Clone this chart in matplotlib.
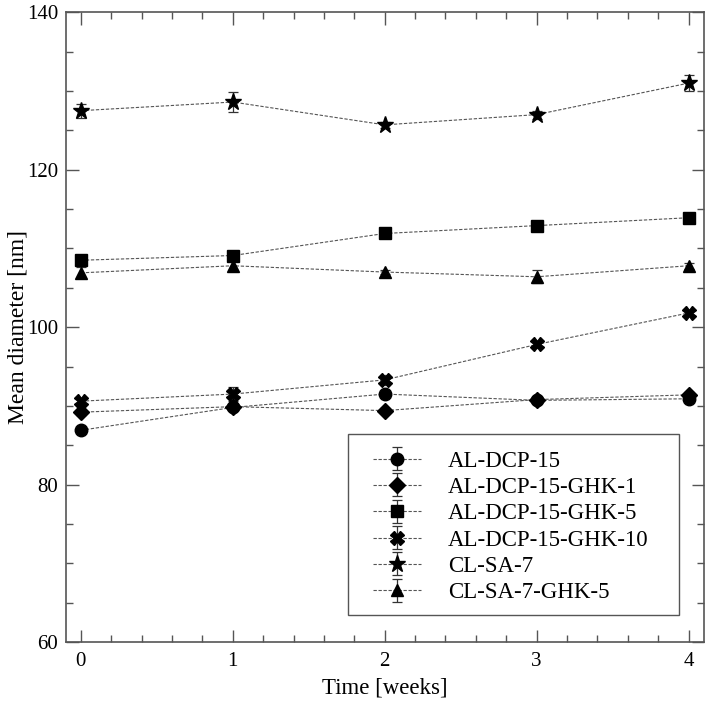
import matplotlib
matplotlib.use("Agg")
import matplotlib.pyplot as plt
from matplotlib.patches import Rectangle
from matplotlib.ticker import MultipleLocator

plt.rcParams['font.family'] = ['Liberation Serif', 'DejaVu Serif']

weeks = [0, 1, 2, 3, 4]

labels = ['AL-DCP-15', 'AL-DCP-15-GHK-1', 'AL-DCP-15-GHK-5',
          'AL-DCP-15-GHK-10', 'CL-SA-7', 'CL-SA-7-GHK-5']
markers = ['o', 'D', 's', 'X', '*', '^']
msizes = [9, 8, 9, 10, 12.5, 9]

al_dcp_15 = [86.9, 89.8, 91.5, 90.7, 90.9]
al_dcp_15_err = [0.3, 0.3, 0.3, 0.5, 0.3]
al_dcp_15_ghk1 = [89.2, 89.9, 89.4, 90.8, 91.4]
al_dcp_15_ghk1_err = [0.3, 0.3, 0.3, 0.3, 0.4]
al_dcp_15_ghk5 = [108.5, 109.1, 111.9, 112.9, 113.9]
al_dcp_15_ghk5_err = [0.4, 0.5, 0.3, 0.5, 0.3]
al_dcp_15_ghk10 = [90.6, 91.5, 93.3, 97.8, 101.8]
al_dcp_15_ghk10_err = [0.3, 0.9, 0.6, 0.4, 0.3]
cl_sa_7 = [127.5, 128.6, 125.7, 127.0, 131.0]
cl_sa_7_err = [0.9, 1.3, 0.4, 0.5, 1.0]
cl_sa_7_ghk5 = [106.9, 107.8, 107.0, 106.4, 107.8]
cl_sa_7_ghk5_err = [0.7, 0.6, 0.3, 0.8, 0.4]

series = [
    (al_dcp_15, al_dcp_15_err),
    (al_dcp_15_ghk1, al_dcp_15_ghk1_err),
    (al_dcp_15_ghk5, al_dcp_15_ghk5_err),
    (al_dcp_15_ghk10, al_dcp_15_ghk10_err),
    (cl_sa_7, cl_sa_7_err),
    (cl_sa_7_ghk5, cl_sa_7_ghk5_err),
]

fig = plt.figure(figsize=(7.14, 7.14), dpi=100)
ax = fig.add_axes([0.092, 0.1008, 0.8936, 0.882])

for (vals, errs), lab, mk, ms in zip(series, labels, markers, msizes):
    ax.errorbar(weeks, vals, yerr=errs, fmt=mk + '--', color='black',
                ecolor='#333333', elinewidth=0.9, capsize=3.5, capthick=0.9,
                markersize=ms, linewidth=0.8, label=lab,
                dashes=(3, 1.5))

# dashed connecting lines are grey, markers stay black
for c in ax.containers:
    c.lines[0].set_color('#555555')
    c.lines[0].set_markerfacecolor('black')
    c.lines[0].set_markeredgecolor('black')

ax.set_xlim(-0.1, 4.1)
ax.set_ylim(60, 140)
ax.xaxis.set_major_locator(MultipleLocator(1))
ax.xaxis.set_minor_locator(MultipleLocator(0.2))
ax.yaxis.set_major_locator(MultipleLocator(20))
ax.yaxis.set_minor_locator(MultipleLocator(5))
ax.tick_params(which='both', direction='in', top=True, right=True,
               color='#555555', labelsize=15)
ax.tick_params(which='major', length=9, width=1)
ax.tick_params(which='minor', length=5, width=1)
ax.tick_params(axis='x', which='both', pad=7)
ax.tick_params(axis='y', which='both', pad=5.5)
for sp in ax.spines.values():
    sp.set_color('#555555')
    sp.set_linewidth(1.2)

ax.set_xlabel('Time [weeks]', fontsize=16.5, labelpad=5)
ax.set_ylabel('Mean diameter [nm]', fontsize=17)
ax.yaxis.set_label_coords(-0.059, 0.5)

# legend text without frame, frame drawn as a separate box like the original
leg = ax.legend(loc='upper left', bbox_to_anchor=(0.5224, 0.3689),
                bbox_transform=fig.transFigure, fontsize=16.5,
                frameon=False, handlelength=2.1, labelspacing=0.23,
                borderpad=0, handletextpad=1.18, borderaxespad=0)
leg.set_zorder(6)
ax.add_patch(Rectangle((0.4874, 0.1387), 0.4636, 0.2535,
                       transform=fig.transFigure, fill=True,
                       facecolor='white', edgecolor='#555555',
                       linewidth=1.0, zorder=5, clip_on=False))

fig.savefig('out.png', dpi=100)
